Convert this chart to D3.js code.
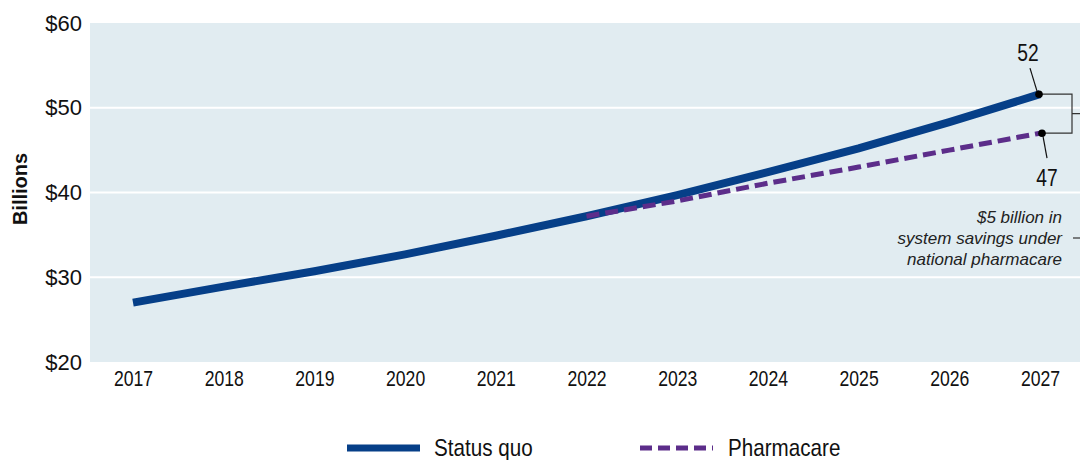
<!DOCTYPE html>
<html><head><meta charset="utf-8">
<script src="https://cdn.jsdelivr.net/npm/d3@7"></script>
<style>body{margin:0;background:#fff;}svg{display:block;}</style>
</head><body>
<svg id="c" width="1080" height="460"></svg>
<script>
const years = [2017,2018,2019,2020,2021,2022,2023,2024,2025,2026,2027];
const statusQuo = [27.0,28.9,30.7,32.7,34.9,37.2,39.7,42.4,45.2,48.3,51.6];
const pharmaYears = [2022,2023,2024,2025,2026,2027];
const pharmacare = [37.2,39.0,41.1,43.0,45.0,47.0];
const yTicks = [20,30,40,50,60];
const endLabels = ["52","47"];
const note = ["$5 billion in","system savings under","national pharmacare"];
const legendNames = ["Status quo","Pharmacare"];

(function(){
const svg = d3.select("#c");
const pL = 90, pT = 23, pB = 362, pR = 1090;
const x = d3.scalePoint().domain(years).range([133,1040]);
const y = d3.scaleLinear().domain([20,60]).range([pB, pT]);
const blue = "#063f88", purple = "#5c2d8a";
const sans = "'Liberation Sans',Arial,sans-serif";
const cond = 0.8;

function ctext(g, tx, ty, str, size, anchor, sc){
  return g.append("text").attr("transform",`translate(${tx},${ty}) scale(${sc||cond},1)`)
    .attr("text-anchor",anchor||"start").attr("font-family",sans).attr("font-size",size).attr("fill","#111").text(str);
}

svg.append("rect").attr("x",pL).attr("y",pT).attr("width",pR-pL).attr("height",pB-pT).attr("fill","#e1ecf1");

svg.append("g").selectAll("line").data(yTicks.filter(d=>d>20&&d<60)).join("line")
  .attr("x1",pL).attr("x2",pR).attr("y1",d=>y(d)).attr("y2",d=>y(d))
  .attr("stroke","#fff").attr("stroke-width",2);

const ya = svg.append("g").attr("transform",`translate(${pL},0)`)
  .call(d3.axisLeft(y).tickValues(yTicks).tickFormat(d=>"$"+d).tickSize(0).tickPadding(8));
ya.select(".domain").remove();
ya.selectAll("text").attr("font-family",sans).attr("font-size",22).attr("fill","#111");

const xa = svg.append("g").attr("transform",`translate(0,${pB})`)
  .call(d3.axisBottom(x).tickSize(0).tickPadding(8));
xa.select(".domain").remove();
xa.selectAll("text").attr("font-family",sans).attr("font-size",22).attr("fill","#111")
  .attr("transform",`scale(${cond},1)`);

svg.append("text").attr("transform",`translate(27,189) rotate(-90)`).attr("text-anchor","middle")
  .attr("font-family",sans).attr("font-weight","bold").attr("font-size",20).attr("fill","#111").text("Billions");

const line = d3.line().x(d=>x(d[0])).y(d=>y(d[1]));
svg.append("path").datum(years.map((d,i)=>[d,statusQuo[i]])).attr("d",line)
  .attr("fill","none").attr("stroke",blue).attr("stroke-width",8);
svg.append("path").datum(pharmaYears.map((d,i)=>[d,pharmacare[i]])).attr("d",line)
  .attr("fill","none").attr("stroke",purple).attr("stroke-width",5).attr("stroke-dasharray","13,6");

const xe = x(2027);
const ySQ = y(statusQuo[statusQuo.length-1]), yPC = y(pharmacare[pharmacare.length-1]);
const bx = 1072;
svg.append("path").attr("d",`M${xe},${ySQ}H${bx}V${yPC}H${xe+2}M${bx},${(ySQ+yPC)/2}H1082`)
  .attr("fill","none").attr("stroke","#333").attr("stroke-width",1.2);
svg.append("circle").attr("cx",xe-1).attr("cy",ySQ).attr("r",3.8).attr("fill","#000");
svg.append("circle").attr("cx",xe+2).attr("cy",yPC).attr("r",3.8).attr("fill","#000");
svg.append("line").attr("x1",xe-10).attr("y1",ySQ-26).attr("x2",xe-3).attr("y2",ySQ-3).attr("stroke","#111").attr("stroke-width",1.2);
svg.append("line").attr("x1",xe+3).attr("y1",yPC+3).attr("x2",xe+7).attr("y2",yPC+25).attr("stroke","#111").attr("stroke-width",1.2);
ctext(svg, xe-12, ySQ-33, endLabels[0], 24, "middle");
ctext(svg, xe+7, yPC+53, endLabels[1], 24, "middle");

svg.append("g").selectAll("text").data(note).join("text")
  .attr("x",1062).attr("y",(d,i)=>223+i*21).attr("text-anchor","end")
  .attr("font-family",sans).attr("font-style","italic").attr("font-size",17).attr("fill","#222").text(d=>d);
svg.append("line").attr("x1",1073).attr("x2",1080).attr("y1",238).attr("y2",238).attr("stroke","#333").attr("stroke-width",1.2);

const lg = svg.append("g");
lg.append("line").attr("x1",347).attr("x2",420).attr("y1",448).attr("y2",448).attr("stroke",blue).attr("stroke-width",7);
ctext(lg, 434, 456, legendNames[0], 24, "start", 0.86);
lg.append("line").attr("x1",640).attr("x2",713).attr("y1",448).attr("y2",448).attr("stroke",purple).attr("stroke-width",5).attr("stroke-dasharray","12,6");
ctext(lg, 728, 456, legendNames[1], 24, "start", 0.86);
})();
</script>
</body></html>
